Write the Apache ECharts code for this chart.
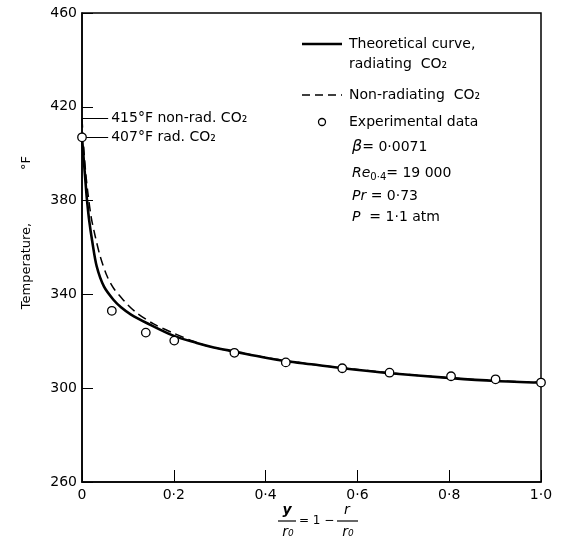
<!DOCTYPE html>
<html>
<head>
<meta charset="utf-8">
<script src="https://cdn.jsdelivr.net/npm/echarts@6/dist/echarts.min.js"></script>
<style>
    html, body {margin: 0; padding: 0; background: #fff;}
    #chart {width: 565px; height: 546px;}
</style>
</head>
<body>
<div id="chart"></div>
<script>
// axis ranges / ticks
var xTicks = [0, 0.2, 0.4, 0.6, 0.8, 1.0];
var yTicks = [260, 300, 340, 380, 420, 460];

// theoretical curve, radiating CO2
var radX = [0, 0.004, 0.008, 0.011, 0.016, 0.022, 0.032, 0.048, 0.069, 0.085, 0.106, 0.142, 0.2, 0.25, 0.287, 0.333, 0.4, 0.446, 0.5, 0.568, 0.671, 0.805, 0.902, 1.0];
var radT = [407, 397, 387, 380, 371, 363, 352, 343.3, 337.6, 334.5, 331.5, 327.7, 322.3, 319.3, 317.4, 315.6, 313, 311.5, 310.2, 308.5, 306.4, 304.3, 303.1, 302.4];

// non-radiating CO2
var nonRadX = [0, 0.004, 0.008, 0.013, 0.02, 0.029, 0.04, 0.055, 0.07, 0.084, 0.1, 0.12, 0.156, 0.2, 0.236, 0.273, 0.32, 0.37, 0.42, 0.5, 0.6, 0.7, 0.8, 0.9, 1.0];
var nonRadT = [415, 402, 392, 383, 373, 364.6, 356, 347.6, 342.3, 339, 335.5, 332, 327.4, 323.4, 320.5, 318, 316, 314.2, 312.5, 310.2, 308, 306, 304.4, 303.2, 302.5];

// experimental data
var expX = [0, 0.065, 0.139, 0.201, 0.332, 0.444, 0.567, 0.670, 0.804, 0.901, 1.0];
var expT = [407, 333, 323.7, 320.3, 315.1, 311, 308.5, 306.6, 305.1, 303.8, 302.4];

// wall temperature notes
var noteT = [415, 407];
var noteText = ['415°F non-rad. CO₂', '407°F rad. CO₂'];
var noteLen = 0.057;

var FONT = 'DejaVu Sans';

function pairs(xs, ys) {
    let out = [];
    for (let i = 0; i < xs.length; i++) out.push([xs[i], ys[i]]);
    return out;
}

function tickLabel(v) {
    if (v === 0) return '0';
    return v.toFixed(1).replace('.', '·');
}

var notes = [];
for (let i = 0; i < noteT.length; i++) {
    notes.push([{coord: [0, noteT[i]], name: noteText[i]}, {coord: [noteLen, noteT[i]]}]);
}

var myChart = echarts.init(document.getElementById('chart'));

var option = {
    backgroundColor: '#fff',
    animation: false,
    grid: {left: 82, right: 24, top: 13, bottom: 64, show: true, borderColor: '#000', borderWidth: 1.5},
    xAxis: {
        type: 'value',
        min: xTicks[0], max: xTicks[xTicks.length - 1], interval: 0.2,
        axisLine: {lineStyle: {color: '#000', width: 1.5}},
        axisTick: {inside: true, length: 12, lineStyle: {color: '#000', width: 1}},
        axisLabel: {color: '#000', fontFamily: FONT, fontSize: 14, margin: 6, formatter: tickLabel},
        splitLine: {show: false}
    },
    yAxis: {
        type: 'value',
        min: yTicks[0], max: yTicks[yTicks.length - 1], interval: 40,
        axisLine: {show: true, lineStyle: {color: '#000', width: 1.5}},
        axisTick: {show: true, inside: true, length: 11, lineStyle: {color: '#000', width: 1}},
        axisLabel: {color: '#000', fontFamily: FONT, fontSize: 14, margin: 5},
        splitLine: {show: false}
    },
    series: [
        {
            name: 'rad', type: 'line', data: pairs(radX, radT), smooth: 0.3,
            symbol: 'none', lineStyle: {color: '#000', width: 2.6}, z: 3
        },
        {
            name: 'nonrad', type: 'line', data: pairs(nonRadX, nonRadT), smooth: 0.3,
            symbol: 'none', lineStyle: {color: '#000', width: 1.5, type: [9, 5]}, z: 2
        },
        {
            name: 'exp', type: 'scatter', data: pairs(expX, expT), clip: false,
            symbol: 'circle', symbolSize: 8.5,
            itemStyle: {color: '#fff', opacity: 1, borderColor: '#000', borderWidth: 1.3}, z: 5,
            markLine: {
                silent: true, symbol: 'none',
                lineStyle: {color: '#000', width: 1, type: 'solid'},
                label: {show: true, position: 'end', formatter: '{b}', color: '#000', fontFamily: FONT, fontSize: 14, distance: 3},
                data: notes
            }
        }
    ],
    graphic: [
        // y axis name
        {type: 'text', x: 27, y: 266, rotation: Math.PI / 2,
            style: {text: 'Temperature,', font: '13px "DejaVu Sans"', fill: '#000', align: 'center', verticalAlign: 'middle'}},
        {type: 'text', x: 27, y: 163, rotation: Math.PI / 2,
            style: {text: '°F', font: '13px "DejaVu Sans"', fill: '#000', align: 'center', verticalAlign: 'middle'}},
        // x axis name: y/r0 = 1 - r/r0
        {type: 'text', x: 287, y: 510, style: {text: 'y', font: 'italic bold 14px "DejaVu Sans"', fill: '#000', align: 'center', verticalAlign: 'middle'}},
        {type: 'line', shape: {x1: 278, y1: 521, x2: 296, y2: 521}, style: {stroke: '#000', lineWidth: 1.2}},
        {type: 'text', x: 288, y: 532, style: {text: 'r₀', font: 'italic 14px "DejaVu Sans"', fill: '#000', align: 'center', verticalAlign: 'middle'}},
        {type: 'text', x: 299, y: 521, style: {text: '= 1 −', font: '12px "DejaVu Sans"', fill: '#000', verticalAlign: 'middle'}},
        {type: 'text', x: 347, y: 510, style: {text: 'r', font: 'italic 14px "DejaVu Sans"', fill: '#000', align: 'center', verticalAlign: 'middle'}},
        {type: 'line', shape: {x1: 337, y1: 521, x2: 358, y2: 521}, style: {stroke: '#000', lineWidth: 1.2}},
        {type: 'text', x: 348, y: 532, style: {text: 'r₀', font: 'italic 14px "DejaVu Sans"', fill: '#000', align: 'center', verticalAlign: 'middle'}},
        // legend
        {type: 'line', shape: {x1: 302, y1: 44, x2: 342, y2: 44}, style: {stroke: '#000', lineWidth: 2.6}},
        {type: 'text', x: 349, y: 44, style: {text: 'Theoretical curve,', font: '14px "DejaVu Sans"', fill: '#000', verticalAlign: 'middle'}},
        {type: 'text', x: 349, y: 64, style: {text: 'radiating  CO₂', font: '14px "DejaVu Sans"', fill: '#000', verticalAlign: 'middle'}},
        {type: 'line', shape: {x1: 302, y1: 95, x2: 342, y2: 95}, style: {stroke: '#000', lineWidth: 1.5, lineDash: [8, 5]}},
        {type: 'text', x: 349, y: 95, style: {text: 'Non-radiating  CO₂', font: '14px "DejaVu Sans"', fill: '#000', verticalAlign: 'middle'}},
        {type: 'circle', shape: {cx: 322, cy: 122, r: 3.5}, style: {fill: '#fff', stroke: '#000', lineWidth: 1.3}},
        {type: 'text', x: 349, y: 122, style: {text: 'Experimental data', font: '14px "DejaVu Sans"', fill: '#000', verticalAlign: 'middle'}},
        {type: 'text', x: 352, y: 147, style: {
            text: '{i|β}{n|= 0·0071}', verticalAlign: 'middle',
            rich: {i: {font: 'italic 16px "DejaVu Sans"', fill: '#000'}, n: {font: '14px "DejaVu Sans"', fill: '#000'}}
        }},
        {type: 'text', x: 352, y: 173, style: {
            text: '{i|Re}{s|0·4}{n|= 19 000}', verticalAlign: 'middle',
            rich: {i: {font: 'italic 14px "DejaVu Sans"', fill: '#000'}, s: {font: '10px "DejaVu Sans"', fill: '#000', padding: [8, 0, 0, 0]}, n: {font: '14px "DejaVu Sans"', fill: '#000'}}
        }},
        {type: 'text', x: 352, y: 196, style: {
            text: '{i|Pr}{n| = 0·73}', verticalAlign: 'middle',
            rich: {i: {font: 'italic 14px "DejaVu Sans"', fill: '#000'}, n: {font: '14px "DejaVu Sans"', fill: '#000'}}
        }},
        {type: 'text', x: 352, y: 217, style: {
            text: '{i|P}{n|  = 1·1 atm}', verticalAlign: 'middle',
            rich: {i: {font: 'italic 14px "DejaVu Sans"', fill: '#000'}, n: {font: '14px "DejaVu Sans"', fill: '#000'}}
        }}
    ]
};

myChart.setOption(option);
</script>
</body>
</html>
